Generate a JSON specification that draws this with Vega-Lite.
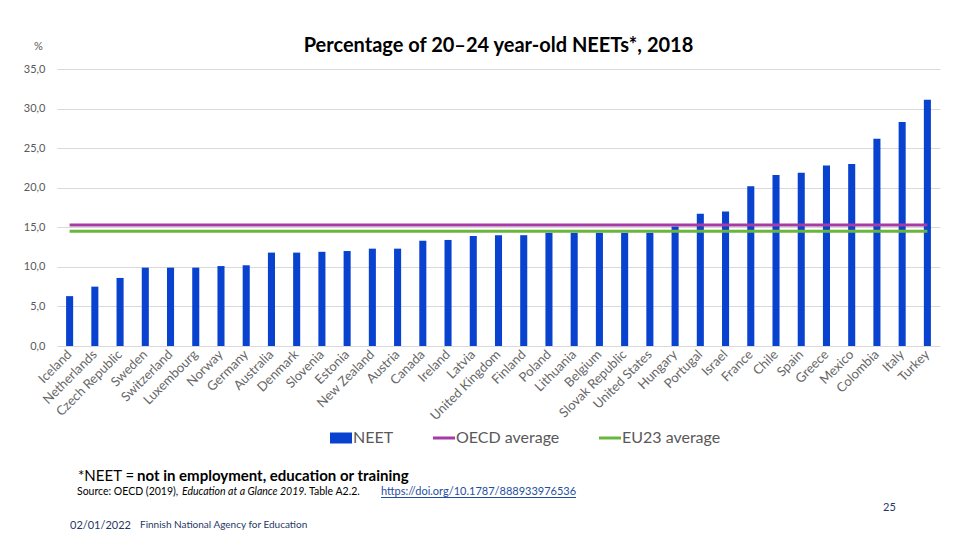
{
  "$schema": "https://vega.github.io/schema/vega-lite/v6.json",
  "width": 883,
  "height": 277,
  "autosize": {"type": "none"},
  "padding": {"left": 57, "top": 69, "right": 20, "bottom": 194},
  "background": "white",
  "title": {
    "text": "Percentage of 20–24 year-old NEETs*, 2018",
    "font": "Lato",
    "fontSize": 20,
    "fontWeight": "bold",
    "color": "#000000",
    "anchor": "middle",
    "frame": "group",
    "offset": 8,
    "dy": 24
  },
  "datasets": {
    "neet": [
      {"country": "Iceland", "neet": 6.3, "oecd": 15.3, "eu23": 14.5},
      {"country": "Netherlands", "neet": 7.5, "oecd": 15.3, "eu23": 14.5},
      {"country": "Czech Republic", "neet": 8.6, "oecd": 15.3, "eu23": 14.5},
      {"country": "Sweden", "neet": 9.9, "oecd": 15.3, "eu23": 14.5},
      {"country": "Switzerland", "neet": 9.9, "oecd": 15.3, "eu23": 14.5},
      {"country": "Luxembourg", "neet": 9.9, "oecd": 15.3, "eu23": 14.5},
      {"country": "Norway", "neet": 10.1, "oecd": 15.3, "eu23": 14.5},
      {"country": "Germany", "neet": 10.2, "oecd": 15.3, "eu23": 14.5},
      {"country": "Australia", "neet": 11.8, "oecd": 15.3, "eu23": 14.5},
      {"country": "Denmark", "neet": 11.8, "oecd": 15.3, "eu23": 14.5},
      {"country": "Slovenia", "neet": 11.9, "oecd": 15.3, "eu23": 14.5},
      {"country": "Estonia", "neet": 12.0, "oecd": 15.3, "eu23": 14.5},
      {"country": "New Zealand", "neet": 12.3, "oecd": 15.3, "eu23": 14.5},
      {"country": "Austria", "neet": 12.3, "oecd": 15.3, "eu23": 14.5},
      {"country": "Canada", "neet": 13.3, "oecd": 15.3, "eu23": 14.5},
      {"country": "Ireland", "neet": 13.4, "oecd": 15.3, "eu23": 14.5},
      {"country": "Latvia", "neet": 13.9, "oecd": 15.3, "eu23": 14.5},
      {"country": "United Kingdom", "neet": 14.0, "oecd": 15.3, "eu23": 14.5},
      {"country": "Finland", "neet": 14.0, "oecd": 15.3, "eu23": 14.5},
      {"country": "Poland", "neet": 14.3, "oecd": 15.3, "eu23": 14.5},
      {"country": "Lithuania", "neet": 14.3, "oecd": 15.3, "eu23": 14.5},
      {"country": "Belgium", "neet": 14.3, "oecd": 15.3, "eu23": 14.5},
      {"country": "Slovak Republic", "neet": 14.3, "oecd": 15.3, "eu23": 14.5},
      {"country": "United States", "neet": 14.3, "oecd": 15.3, "eu23": 14.5},
      {"country": "Hungary", "neet": 15.1, "oecd": 15.3, "eu23": 14.5},
      {"country": "Portugal", "neet": 16.7, "oecd": 15.3, "eu23": 14.5},
      {"country": "Israel", "neet": 17.0, "oecd": 15.3, "eu23": 14.5},
      {"country": "France", "neet": 20.2, "oecd": 15.3, "eu23": 14.5},
      {"country": "Chile", "neet": 21.6, "oecd": 15.3, "eu23": 14.5},
      {"country": "Spain", "neet": 21.9, "oecd": 15.3, "eu23": 14.5},
      {"country": "Greece", "neet": 22.8, "oecd": 15.3, "eu23": 14.5},
      {"country": "Mexico", "neet": 23.0, "oecd": 15.3, "eu23": 14.5},
      {"country": "Colombia", "neet": 26.2, "oecd": 15.3, "eu23": 14.5},
      {"country": "Italy", "neet": 28.3, "oecd": 15.3, "eu23": 14.5},
      {"country": "Turkey", "neet": 31.1, "oecd": 15.3, "eu23": 14.5}
    ]
  },
  "config": {
    "view": {"stroke": null},
    "font": "Lato",
    "axisX": {
      "title": null,
      "labelAngle": -45,
      "labelAlign": "right",
      "labelBaseline": "middle",
      "labelFont": "Lato",
      "labelFontSize": 13,
      "labelColor": "#666666",
      "labelPadding": 6,
      "ticks": false,
      "domain": false,
      "grid": false
    },
    "axisY": {
      "labelOverlap": false,
      "labelFont": "Lato",
      "labelFontSize": 11,
      "labelColor": "#595959",
      "labelPadding": 12,
      "ticks": false,
      "domain": false,
      "grid": true,
      "gridColor": "#d9d9d9",
      "gridWidth": 1,
      "titleAngle": 0,
      "titleX": -19,
      "titleY": -23,
      "titleAlign": "center",
      "titleBaseline": "middle",
      "titleFont": "Lato",
      "titleFontSize": 11,
      "titleFontWeight": "normal",
      "titleColor": "#595959"
    }
  },
  "layer": [
    {
      "data": {"name": "neet"},
      "mark": {"type": "bar"},
      "encoding": {
        "x": {
          "field": "country",
          "type": "nominal",
          "sort": null,
          "title": null,
          "scale": {"paddingInner": 0.72, "paddingOuter": 0.36}
        },
        "y": {
          "field": "neet",
          "type": "quantitative",
          "title": "%",
          "scale": {"domain": [0, 35], "nice": false},
          "axis": {
            "values": [0, 5, 10, 15, 20, 25, 30, 35],
            "labelExpr": "replace(format(datum.value, '.1f'), '.', ',')"
          }
        },
        "color": {
          "datum": "NEET",
          "type": "nominal",
          "scale": {
            "domain": ["NEET", "OECD average", "EU23 average"],
            "range": ["#0842cf", "#a63ba6", "#6ab63c"]
          },
          "legend": {
            "title": null,
            "orient": "none",
            "direction": "horizontal",
            "legendX": 276,
            "legendY": 361,
            "labelFont": "Lato",
            "labelFontSize": 16,
            "labelColor": "#595959",
            "labelOffset": 4,
            "columnPadding": 33,
            "symbolSize": 484,
            "encode": {
              "symbols": {
                "update": {
                  "shape": {"signal": "datum.value === 'NEET' ? 'M-1,-0.5H1V0.5H-1Z' : 'stroke'"},
                  "fill": {"signal": "datum.value === 'NEET' ? scale('color', datum.value) : 'transparent'"},
                  "stroke": {"signal": "scale('color', datum.value)"},
                  "strokeWidth": {"signal": "datum.value === 'NEET' ? 0 : 3"},
                  "opacity": {"value": 1}
                }
              }
            }
          }
        }
      }
    },
    {
      "data": {"name": "neet"},
      "mark": {"type": "line", "strokeWidth": 3},
      "encoding": {
        "x": {"field": "country", "type": "nominal", "sort": null, "title": null},
        "y": {
          "field": "oecd",
          "type": "quantitative",
          "title": "%",
          "axis": {
            "values": [0, 5, 10, 15, 20, 25, 30, 35],
            "labelExpr": "replace(format(datum.value, '.1f'), '.', ',')"
          }
        },
        "color": {"datum": "OECD average", "type": "nominal"}
      }
    },
    {
      "data": {"name": "neet"},
      "mark": {"type": "line", "strokeWidth": 3},
      "encoding": {
        "x": {"field": "country", "type": "nominal", "sort": null, "title": null},
        "y": {
          "field": "eu23",
          "type": "quantitative",
          "title": "%",
          "axis": {
            "values": [0, 5, 10, 15, 20, 25, 30, 35],
            "labelExpr": "replace(format(datum.value, '.1f'), '.', ',')"
          }
        },
        "color": {"datum": "EU23 average", "type": "nominal"}
      }
    },
    {
      "data": {"values": [{}]},
      "mark": {"type": "text", "text": "*NEET =", "x": 21, "y": 412, "align": "left", "baseline": "alphabetic", "font": "Lato", "fontSize": 15, "color": "#000000"},
      "encoding": {}
    },
    {
      "data": {"values": [{}]},
      "mark": {"type": "text", "text": "not in employment, education or training", "x": 80, "y": 412, "align": "left", "baseline": "alphabetic", "font": "Lato", "fontSize": 15, "fontWeight": "bold", "color": "#000000"},
      "encoding": {}
    },
    {
      "data": {"values": [{}]},
      "mark": {"type": "text", "text": "Source: OECD (2019),", "x": 20, "y": 426, "align": "left", "baseline": "alphabetic", "font": "Lato", "fontSize": 10.5, "color": "#000000"},
      "encoding": {}
    },
    {
      "data": {"values": [{}]},
      "mark": {"type": "text", "text": "Education at a Glance 2019.", "x": 125, "y": 426, "align": "left", "baseline": "alphabetic", "font": "Lato", "fontSize": 10.5, "fontStyle": "italic", "color": "#000000"},
      "encoding": {}
    },
    {
      "data": {"values": [{}]},
      "mark": {"type": "text", "text": "Table A2.2.", "x": 252, "y": 426, "align": "left", "baseline": "alphabetic", "font": "Lato", "fontSize": 10.5, "color": "#000000"},
      "encoding": {}
    },
    {
      "data": {"values": [{}]},
      "mark": {"type": "text", "text": "https://doi.org/10.1787/888933976536", "x": 324, "y": 426, "align": "left", "baseline": "alphabetic", "font": "Lato", "fontSize": 11, "color": "#1f4e9f"},
      "encoding": {}
    },
    {
      "data": {"values": [{}]},
      "mark": {"type": "rule", "stroke": "#1f4e9f", "strokeWidth": 1},
      "encoding": {
        "x": {"value": 324},
        "x2": {"value": 519},
        "y": {"value": 428.5}
      }
    },
    {
      "data": {"values": [{}]},
      "mark": {"type": "text", "text": "02/01/2022", "x": 13, "y": 460, "align": "left", "baseline": "alphabetic", "font": "Lato", "fontSize": 11, "color": "#1f3864"},
      "encoding": {}
    },
    {
      "data": {"values": [{}]},
      "mark": {"type": "text", "text": "Finnish National Agency for Education", "x": 83, "y": 459, "align": "left", "baseline": "alphabetic", "font": "Lato", "fontSize": 10, "color": "#1f3864"},
      "encoding": {}
    },
    {
      "data": {"values": [{}]},
      "mark": {"type": "text", "text": "25", "x": 826, "y": 442, "align": "left", "baseline": "alphabetic", "font": "Lato", "fontSize": 11, "color": "#1f3864"},
      "encoding": {}
    }
  ]
}
